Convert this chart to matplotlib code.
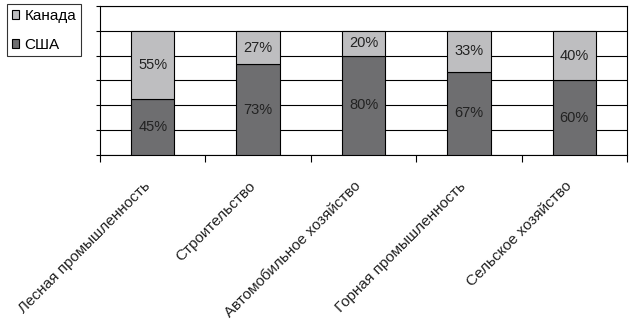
import matplotlib.pyplot as plt
import matplotlib.transforms as mtransforms
import numpy as np

plt.rcParams['font.family'] = ['Liberation Sans', 'DejaVu Sans']

industries = ["Лесная промышленность", "Строительство", "Автомобильное хозяйство",
              "Горная промышленность", "Сельское хозяйство"]
usa = [45, 73, 80, 67, 60]
canada = [55, 27, 20, 33, 40]

usa_color = "#6e6e70"
canada_color = "#bebec0"

fig = plt.figure(figsize=(6.33, 3.26), dpi=100)
ax = fig.add_axes([100 / 633, 1 - 155 / 326, 527 / 633, 149 / 326])

x = np.arange(len(industries))
width = 0.41
b_usa = ax.bar(x, usa, width, color=usa_color, edgecolor="black", linewidth=0.8,
               label="США", zorder=3)
b_can = ax.bar(x, canada, width, bottom=usa, color=canada_color, edgecolor="black",
               linewidth=0.8, label="Канада", zorder=3)

for i in range(len(industries)):
    ax.text(x[i], usa[i] / 2, f"{usa[i]}%", ha="center", va="center",
            fontsize=10.5, color="#222222", zorder=4)
    ax.text(x[i], usa[i] + canada[i] / 2, f"{canada[i]}%", ha="center", va="center",
            fontsize=10.5, color="#222222", zorder=4)

ax.set_xlim(-0.5, len(industries) - 0.5)
ax.set_ylim(0, 120)
ax.set_yticks(range(0, 121, 20))
ax.set_yticklabels([])
ax.yaxis.grid(True, color="black", linewidth=0.8)
ax.set_axisbelow(True)

# category boundaries carry the ticks, names sit at the centres
ax.set_xticks(np.arange(-0.5, len(industries), 1.0))
ax.set_xticklabels([])
ax.set_xticks(x, minor=True)
ax.set_xticklabels(industries, minor=True, rotation=45, ha="right", va="center",
                   rotation_mode="anchor", fontsize=11, color="#222222")
ax.tick_params(axis="x", which="major", length=5, width=0.8, direction="out")
ax.tick_params(axis="x", which="minor", length=0, pad=21)
ax.tick_params(axis="y", length=3, width=0.8, direction="out")

shift = mtransforms.ScaledTranslation(-5 / 100, 0, fig.dpi_scale_trans)
for lbl in ax.get_xticklabels(minor=True):
    lbl.set_transform(lbl.get_transform() + shift)

for s in ax.spines.values():
    s.set_linewidth(0.8)
    s.set_color("black")

leg = fig.legend(handles=[b_can, b_usa], labels=["Канада", "США"],
                 loc="upper left", bbox_to_anchor=(7 / 633, 1 - 4 / 326),
                 borderaxespad=0, fontsize=11, frameon=True, fancybox=False,
                 edgecolor="black", handlelength=0.5, handleheight=0.5,
                 handletextpad=0.35, labelspacing=1.0, borderpad=0.3)
leg.get_frame().set_linewidth(0.8)

fig.savefig("out.png", dpi=100)
